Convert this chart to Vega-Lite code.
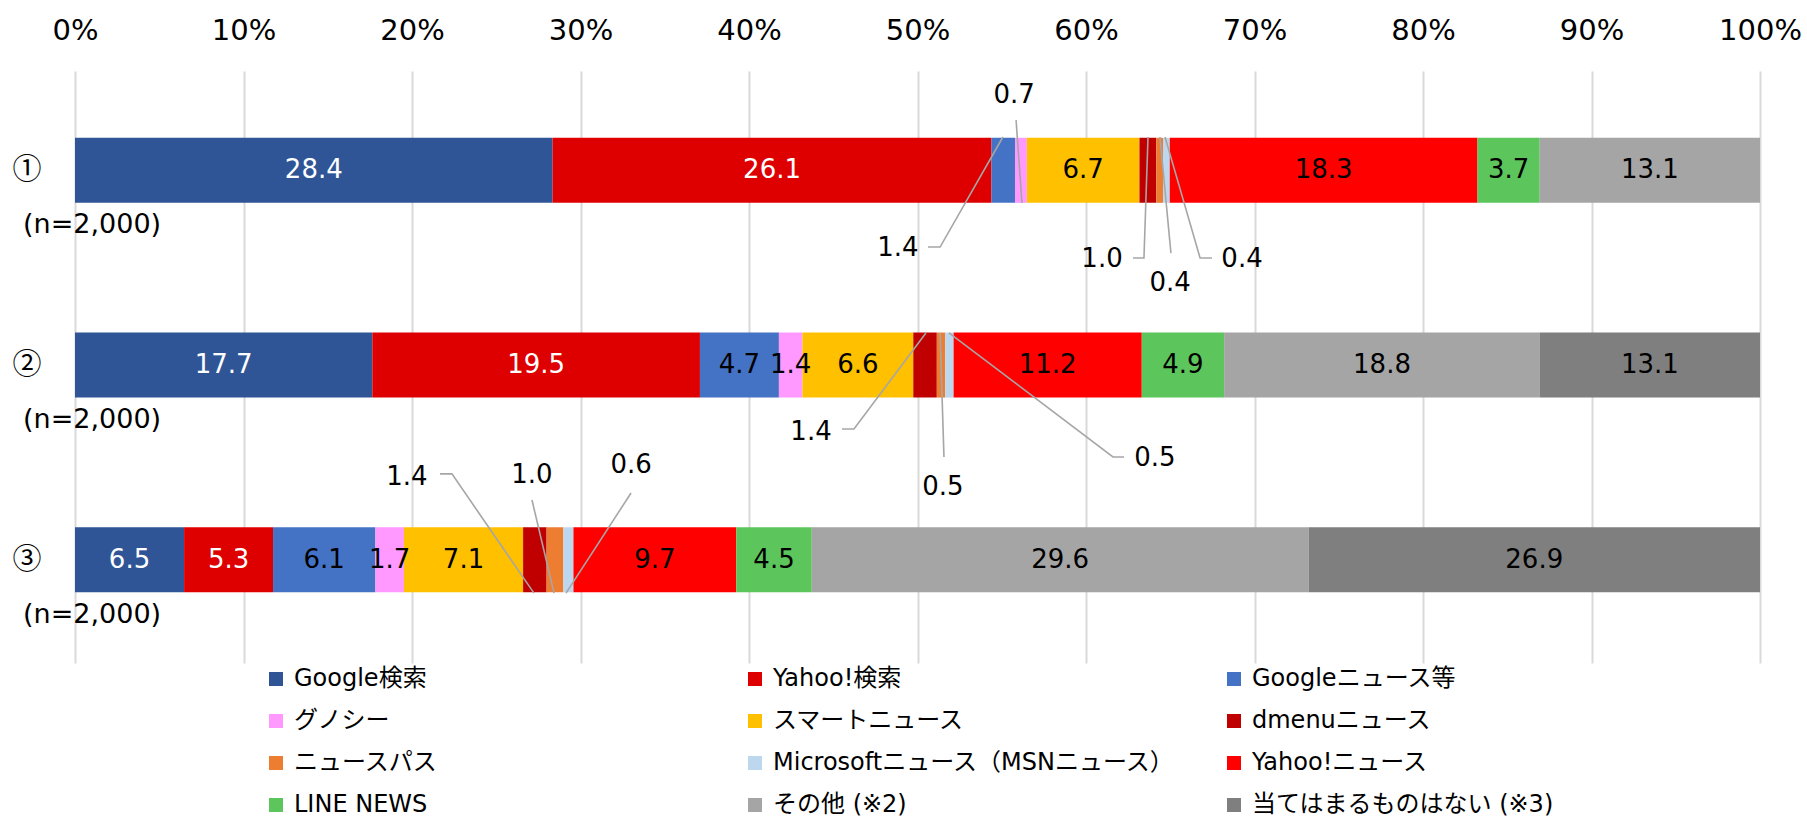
{
  "$schema": "https://vega.github.io/schema/vega-lite/v6.json",
  "width": 1685,
  "height": 592,
  "autosize": {"type": "none"},
  "padding": {"left": 75, "top": 71, "right": 47, "bottom": 156},
  "background": "white",
  "config": {
    "font": "DejaVu Sans, Noto Sans CJK JP",
    "view": {"stroke": null},
    "legend": {
      "orient": "none",
      "legendX": 189,
      "legendY": 596,
      "columns": 3,
      "direction": "horizontal",
      "gridAlign": "all",
      "columnPadding": 45,
      "rowPadding": 18,
      "padding": 0,
      "symbolType": "square",
      "symbolSize": 196,
      "symbolStrokeWidth": 0,
      "labelFontSize": 24,
      "labelColor": "#000000",
      "labelLimit": 700,
      "labelOffset": 6
    }
  },
  "datasets": {
    "main": [
      {"row": 1, "k": 1, "s": "Google検索", "v": 28.4, "callout": false},
      {"row": 1, "k": 2, "s": "Yahoo!検索", "v": 26.1, "callout": false},
      {"row": 1, "k": 3, "s": "Googleニュース等", "v": 1.4, "callout": true},
      {"row": 1, "k": 4, "s": "グノシー", "v": 0.7, "callout": true},
      {"row": 1, "k": 5, "s": "スマートニュース", "v": 6.7, "callout": false},
      {"row": 1, "k": 6, "s": "dmenuニュース", "v": 1.0, "callout": true},
      {"row": 1, "k": 7, "s": "ニュースパス", "v": 0.4, "callout": true},
      {"row": 1, "k": 8, "s": "Microsoftニュース（MSNニュース）", "v": 0.4, "callout": true},
      {"row": 1, "k": 9, "s": "Yahoo!ニュース", "v": 18.3, "callout": false},
      {"row": 1, "k": 10, "s": "LINE NEWS", "v": 3.7, "callout": false},
      {"row": 1, "k": 11, "s": "その他 (※2)", "v": 13.1, "callout": false},
      {"row": 2, "k": 1, "s": "Google検索", "v": 17.7, "callout": false},
      {"row": 2, "k": 2, "s": "Yahoo!検索", "v": 19.5, "callout": false},
      {"row": 2, "k": 3, "s": "Googleニュース等", "v": 4.7, "callout": false},
      {"row": 2, "k": 4, "s": "グノシー", "v": 1.4, "callout": false},
      {"row": 2, "k": 5, "s": "スマートニュース", "v": 6.6, "callout": false},
      {"row": 2, "k": 6, "s": "dmenuニュース", "v": 1.4, "callout": true},
      {"row": 2, "k": 7, "s": "ニュースパス", "v": 0.5, "callout": true},
      {"row": 2, "k": 8, "s": "Microsoftニュース（MSNニュース）", "v": 0.5, "callout": true},
      {"row": 2, "k": 9, "s": "Yahoo!ニュース", "v": 11.2, "callout": false},
      {"row": 2, "k": 10, "s": "LINE NEWS", "v": 4.9, "callout": false},
      {"row": 2, "k": 11, "s": "その他 (※2)", "v": 18.8, "callout": false},
      {"row": 2, "k": 12, "s": "当てはまるものはない (※3)", "v": 13.1, "callout": false},
      {"row": 3, "k": 1, "s": "Google検索", "v": 6.5, "callout": false},
      {"row": 3, "k": 2, "s": "Yahoo!検索", "v": 5.3, "callout": false},
      {"row": 3, "k": 3, "s": "Googleニュース等", "v": 6.1, "callout": false},
      {"row": 3, "k": 4, "s": "グノシー", "v": 1.7, "callout": false},
      {"row": 3, "k": 5, "s": "スマートニュース", "v": 7.1, "callout": false},
      {"row": 3, "k": 6, "s": "dmenuニュース", "v": 1.4, "callout": true},
      {"row": 3, "k": 7, "s": "ニュースパス", "v": 1.0, "callout": true},
      {"row": 3, "k": 8, "s": "Microsoftニュース（MSNニュース）", "v": 0.6, "callout": true},
      {"row": 3, "k": 9, "s": "Yahoo!ニュース", "v": 9.7, "callout": false},
      {"row": 3, "k": 10, "s": "LINE NEWS", "v": 4.5, "callout": false},
      {"row": 3, "k": 11, "s": "その他 (※2)", "v": 29.6, "callout": false},
      {"row": 3, "k": 12, "s": "当てはまるものはない (※3)", "v": 26.9, "callout": false}
    ],
    "callouts": [
      {"row": 1, "s": "Googleニュース等", "v": 1.4, "lx": 0.4884, "ly": 1.399},
      {"row": 1, "s": "グノシー", "v": 0.7, "lx": 0.5573, "ly": 0.613},
      {"row": 1, "s": "dmenuニュース", "v": 1.0, "lx": 0.6095, "ly": 1.455},
      {"row": 1, "s": "ニュースパス", "v": 0.4, "lx": 0.6499, "ly": 1.579},
      {"row": 1, "s": "Microsoftニュース（MSNニュース）", "v": 0.4, "lx": 0.6926, "ly": 1.455},
      {"row": 2, "s": "dmenuニュース", "v": 1.4, "lx": 0.4368, "ly": 2.344},
      {"row": 2, "s": "ニュースパス", "v": 0.5, "lx": 0.5151, "ly": 2.626},
      {"row": 2, "s": "Microsoftニュース（MSNニュース）", "v": 0.5, "lx": 0.6409, "ly": 2.477},
      {"row": 3, "s": "dmenuニュース", "v": 1.4, "lx": 0.1970, "ly": 2.575},
      {"row": 3, "s": "ニュースパス", "v": 1.0, "lx": 0.2712, "ly": 2.565},
      {"row": 3, "s": "Microsoftニュース（MSNニュース）", "v": 0.6, "lx": 0.3300, "ly": 2.513}
    ],
    "leaders": [
      {"id": "a", "p": 1, "x": 0.5062, "r": 1.394},
      {"id": "a", "p": 2, "x": 0.5134, "r": 1.394},
      {"id": "a", "p": 3, "x": 0.5507, "r": 0.829},
      {"id": "b", "p": 1, "x": 0.5585, "r": 0.742},
      {"id": "b", "p": 2, "x": 0.5620, "r": 1.168},
      {"id": "c", "p": 1, "x": 0.6279, "r": 1.450},
      {"id": "c", "p": 2, "x": 0.6344, "r": 1.450},
      {"id": "c", "p": 3, "x": 0.6368, "r": 0.829},
      {"id": "d", "p": 1, "x": 0.6504, "r": 1.425},
      {"id": "d", "p": 2, "x": 0.6439, "r": 0.829},
      {"id": "e", "p": 1, "x": 0.6748, "r": 1.450},
      {"id": "e", "p": 2, "x": 0.6677, "r": 1.450},
      {"id": "e", "p": 3, "x": 0.6469, "r": 0.829},
      {"id": "f", "p": 1, "x": 0.4552, "r": 2.328},
      {"id": "f", "p": 2, "x": 0.4623, "r": 2.328},
      {"id": "f", "p": 3, "x": 0.5050, "r": 1.835},
      {"id": "g", "p": 1, "x": 0.5157, "r": 2.472},
      {"id": "g", "p": 2, "x": 0.5134, "r": 1.835},
      {"id": "h", "p": 1, "x": 0.6226, "r": 2.472},
      {"id": "h", "p": 2, "x": 0.6160, "r": 2.472},
      {"id": "h", "p": 3, "x": 0.5187, "r": 1.835},
      {"id": "i", "p": 1, "x": 0.2166, "r": 2.559},
      {"id": "i", "p": 2, "x": 0.2237, "r": 2.559},
      {"id": "i", "p": 3, "x": 0.2724, "r": 3.171},
      {"id": "j", "p": 1, "x": 0.2712, "r": 2.693},
      {"id": "j", "p": 2, "x": 0.2843, "r": 3.171},
      {"id": "k", "p": 1, "x": 0.3300, "r": 2.657},
      {"id": "k", "p": 2, "x": 0.2914, "r": 3.171}
    ],
    "rows": [
      {"row": 1, "label": "①", "n": "(n=2,000)"},
      {"row": 2, "label": "②", "n": "(n=2,000)"},
      {"row": 3, "label": "③", "n": "(n=2,000)"}
    ]
  },
  "layer": [
    {
      "data": {"name": "main"},
      "mark": {"type": "bar", "height": 65, "orient": "horizontal"},
      "encoding": {
        "x": {
          "field": "v", "type": "quantitative", "stack": "normalize",
          "scale": {"domain": [0, 1], "nice": false},
          "axis": {
            "orient": "top", "title": null, "format": "%",
            "values": [0, 0.1, 0.2, 0.3, 0.4, 0.5, 0.6, 0.7, 0.8, 0.9, 1],
            "grid": true, "gridColor": "#D9D9D9", "gridWidth": 2,
            "domain": false, "ticks": false, "tickSize": 0,
            "labelFontSize": 29, "labelColor": "#000000", "labelPadding": 26,
            "labelFlush": false, "labelOverlap": false
          }
        },
        "y": {
          "field": "row", "type": "quantitative",
          "scale": {"domain": [0.49, 3.53], "reverse": true, "nice": false, "zero": false, "padding": 0},
          "axis": null
        },
        "color": {
          "field": "s", "type": "nominal",
          "scale": {
            "domain": ["Google検索", "Yahoo!検索", "Googleニュース等", "グノシー", "スマートニュース", "dmenuニュース", "ニュースパス", "Microsoftニュース（MSNニュース）", "Yahoo!ニュース", "LINE NEWS", "その他 (※2)", "当てはまるものはない (※3)"],
            "range": ["#2F5597", "#DE0000", "#4472C4", "#FF99FF", "#FFC000", "#C00000", "#ED7D31", "#BDD7EE", "#FF0000", "#5CC55B", "#A5A5A5", "#7F7F7F"]
          },
          "legend": {"title": null}
        },
        "order": {"field": "k", "type": "quantitative"}
      }
    },
    {
      "data": {"name": "main"},
      "mark": {"type": "text", "fontSize": 26, "baseline": "middle", "align": "center"},
      "encoding": {
        "x": {"field": "v", "type": "quantitative", "stack": "normalize", "bandPosition": 0.5},
        "y": {"field": "row", "type": "quantitative"},
        "detail": {"field": "s", "type": "nominal"},
        "order": {"field": "k", "type": "quantitative"},
        "text": {"condition": {"test": "datum.callout", "value": ""}, "field": "v", "type": "quantitative", "format": ".1f"},
        "color": {"condition": {"test": "datum.s === 'Google検索' || datum.s === 'Yahoo!検索'", "value": "#FFFFFF"}, "value": "#000000"}
      }
    },
    {
      "data": {"name": "leaders"},
      "mark": {"type": "line", "color": "#A6A6A6", "strokeWidth": 1.6},
      "encoding": {
        "x": {"field": "x", "type": "quantitative"},
        "y": {"field": "r", "type": "quantitative"},
        "detail": {"field": "id", "type": "nominal"},
        "order": {"field": "p", "type": "quantitative"}
      }
    },
    {
      "data": {"name": "callouts"},
      "mark": {"type": "text", "fontSize": 26, "baseline": "middle", "align": "center", "color": "#000000"},
      "encoding": {
        "x": {"field": "lx", "type": "quantitative"},
        "y": {"field": "ly", "type": "quantitative"},
        "text": {"field": "v", "type": "quantitative", "format": ".1f"}
      }
    },
    {
      "data": {"name": "rows"},
      "mark": {"type": "text", "font": "Noto Sans CJK JP", "fontSize": 29, "baseline": "middle", "align": "center", "dx": -48, "color": "#000000"},
      "encoding": {
        "x": {"datum": 0, "type": "quantitative"},
        "y": {"field": "row", "type": "quantitative"},
        "text": {"field": "label", "type": "nominal"}
      }
    },
    {
      "data": {"name": "rows"},
      "mark": {"type": "text", "fontSize": 27, "baseline": "middle", "align": "left", "dx": -52, "dy": 55, "color": "#000000"},
      "encoding": {
        "x": {"datum": 0, "type": "quantitative"},
        "y": {"field": "row", "type": "quantitative"},
        "text": {"field": "n", "type": "nominal"}
      }
    }
  ]
}
